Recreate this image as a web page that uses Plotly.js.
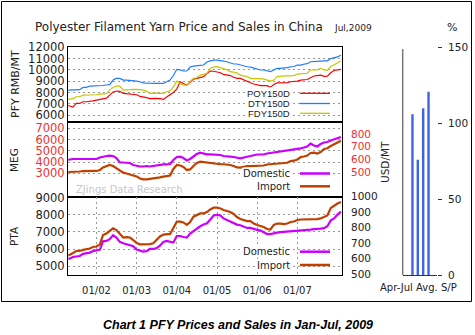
<!DOCTYPE html>
<html><head><meta charset="utf-8">
<script src="https://cdn.plot.ly/plotly-3.0.1.min.js"></script>
<style>html,body{margin:0;padding:0;background:#fff;} #chart{width:475px;height:335px;}</style>
</head><body><div id="chart"></div>
<script>
const dates = ["2001-04-20","2001-05-01","2001-06-01","2001-07-01","2001-08-01","2001-09-01","2001-10-01","2001-11-01","2001-12-01",
"2002-01-01","2002-02-01","2002-03-01","2002-04-01","2002-05-01","2002-06-01","2002-07-01","2002-08-01","2002-09-01","2002-10-01","2002-11-01","2002-12-01",
"2003-01-01","2003-02-01","2003-03-01","2003-04-01","2003-05-01","2003-06-01","2003-07-01","2003-08-01","2003-09-01","2003-10-01","2003-11-01","2003-12-01",
"2004-01-01","2004-02-01","2004-03-01","2004-04-01","2004-05-01","2004-06-01","2004-07-01","2004-08-01","2004-09-01","2004-10-01","2004-11-01","2004-12-01",
"2005-01-01","2005-02-01","2005-03-01","2005-04-01","2005-05-01","2005-06-01","2005-07-01","2005-08-01","2005-09-01","2005-10-01","2005-11-01","2005-12-01",
"2006-01-01","2006-02-01","2006-03-01","2006-04-01","2006-05-01","2006-06-01","2006-07-01","2006-08-01","2006-09-01","2006-10-01","2006-11-01","2006-12-01",
"2007-01-01","2007-02-01","2007-03-01","2007-04-01","2007-05-01","2007-06-01","2007-07-01","2007-08-01","2007-09-01","2007-10-01","2007-11-01","2007-12-01",
"2008-01-01","2008-02-01"];

// PFY prices, RMB/MT
const poy150d = [6880,6800,6700,7030,7030,7180,7180,7200,7250,
7330,7400,7480,7500,7770,8050,8130,8100,7920,7880,7830,7830,
7800,7650,7620,7550,7450,7480,7480,7450,7390,7600,7770,8000,
8300,8950,8800,8660,8900,9190,9250,9340,9400,9690,9900,9880,
9840,9750,9600,9540,9500,9350,9250,9250,9100,8950,8860,8750,
8650,8600,8600,8600,8450,8700,8850,8850,8880,8880,8950,8950,
9000,9100,9100,9150,9300,9460,9500,9540,9430,9450,9750,9950,
10000,10050];
const dty150d = [8210,8210,8210,8220,8250,8450,8450,8570,8570,
8570,8600,8620,8660,8700,9100,9250,9250,9100,9100,9080,9060,
9000,8950,8850,8830,8800,8800,8800,8800,8800,8950,9100,9500,
10050,10000,9900,9900,10250,10340,10340,10400,10430,10700,10800,10870,
10870,10850,10780,10720,10600,10520,10520,10430,10350,10280,10250,10150,
10050,9990,9990,9900,9840,10000,10140,10140,10140,10200,10280,10300,
10430,10430,10500,10550,10720,10720,10750,10780,10800,10800,11000,11050,
11150,11300];
const fdy150d = [7390,7390,7450,7620,7620,7770,7770,7770,7800,
7800,7850,7860,7900,8210,8450,8570,8570,8210,8210,8250,8280,
8280,8250,8210,8100,7920,7950,7950,7920,7920,8070,8150,8500,
9010,8800,8660,8660,9000,9250,9300,9540,9600,9700,10140,10250,
10280,10200,10140,10000,9840,9800,9750,9540,9460,9400,9250,9250,
9250,9200,9200,9100,9000,9100,9400,9450,9450,9450,9500,9500,
9630,9640,9680,9700,9990,9990,10000,10140,10000,9950,10300,10450,
10600,10780];

// MEG: domestic RMB/MT (left), import USD/MT (right)
const megDomestic = [4182,4227,4271,4271,4271,4271,4271,4271,4271,
4271,4404,4493,4538,4564,4538,4360,3960,3960,3960,3916,3738,
3649,3604,3604,3649,3604,3649,3738,3782,3800,3800,3827,4182,
4449,4476,4360,4138,4271,4493,4716,4831,4760,4689,4689,4689,
4689,4627,4538,4476,4476,4449,4404,4333,4404,4476,4582,4627,
4671,4671,4671,4760,4804,4831,4893,4920,4938,4982,5027,5071,
5160,5222,5293,5382,5649,5471,5382,5604,5738,5782,5916,6022,
6111,6227];
const megImport = [500,500,504,504,504,506,508,508,508,
508,516,536,543,555,547,528,512,495,488,480,476,
465,449,442,442,445,449,450,457,463,466,472,524,
555,551,540,516,520,547,571,581,577,573,573,571,
567,561,561,559,555,547,536,534,543,547,547,547,
547,547,551,559,561,563,567,571,573,573,586,589,
599,618,622,630,650,652,646,658,682,687,705,721,
733,747];

// PTA: domestic RMB/MT (left), import USD/MT (right)
const ptaDomestic = [5438,5438,5540,5569,5597,5723,5740,5797,5882,
5910,5967,6451,6479,6576,6804,6667,6422,6337,6292,6252,6166,
5967,5910,5853,5882,6007,6007,6053,6195,6422,6479,6451,6383,
6764,6764,6707,6667,6906,7048,7236,7333,7430,7504,7731,7959,
7999,7959,7788,7703,7617,7504,7430,7390,7304,7236,7236,7162,
7122,7077,6991,6878,6878,6935,6963,6991,7003,7020,7048,7048,
7077,7105,7105,7117,7134,7162,7162,7191,7219,7333,7674,7788,
8016,8186];
const ptaImport = [621,624,637,650,650,657,660,666,676,
679,693,753,763,779,796,785,760,737,740,737,721,
702,693,693,693,695,700,721,744,756,756,760,798,
839,839,834,818,837,871,882,892,893,901,918,929,
929,924,914,908,901,889,869,856,850,843,843,827,
818,811,805,792,789,818,827,827,824,827,837,840,
850,853,853,854,855,856,856,860,872,879,927,943,
956,966];

// Apr-Jul average sales/production ratio, %
const spMonths = ["Apr","May","Jun","Jul"];
const spRatio = [106,76,110,121];

const yearTicks = ["2002-01-01","2003-01-01","2004-01-01","2005-01-01","2006-01-01","2007-01-01"];
const yearLabels = ["01/02","01/03","01/04","01/05","01/06","01/07"];

const W = 475, H = 335;
const px = x => x / W, py = y => 1 - y / H;
const FONT = "DejaVu Sans, Verdana, sans-serif";
const xRange = ["2001-04-17", "2008-02-11"];
const xDom = [px(68), px(342)];
const d1 = [py(122.3), py(47.3)], d2 = [py(196.7), py(122.3)], d3 = [py(275), py(196.7)];
const grid = {showgrid: true, gridcolor: "#999", griddash: "2px,3px", gridwidth: 1};
const red = "#f03030", purple = "#cc00ff", brown = "#c04000";
const numFmt = {tickformat: "d", exponentformat: "none", separatethousands: false};

const traces = [
  {x: dates, y: poy150d, xaxis: "x", yaxis: "y", mode: "lines", line: {color: "#ff0000", width: 1.2}, name: "POY150D"},
  {x: dates, y: dty150d, xaxis: "x", yaxis: "y", mode: "lines", line: {color: "#1e7cff", width: 1.2}, name: "DTY150D"},
  {x: dates, y: fdy150d, xaxis: "x", yaxis: "y", mode: "lines", line: {color: "#c8c400", width: 1.2}, name: "FDY150D"},
  {x: dates, y: megImport, xaxis: "x2", yaxis: "y3", mode: "lines", line: {color: brown, width: 2.2}, name: "Import"},
  {x: dates, y: megDomestic, xaxis: "x2", yaxis: "y2", mode: "lines", line: {color: purple, width: 2.2}, name: "Domestic"},
  {x: dates, y: ptaImport, xaxis: "x3", yaxis: "y5", mode: "lines", line: {color: brown, width: 2.2}, name: "Import"},
  {x: dates, y: ptaDomestic, xaxis: "x3", yaxis: "y4", mode: "lines", line: {color: purple, width: 2.2}, name: "Domestic"},
  {x: spMonths, y: spRatio, xaxis: "x4", yaxis: "y6", type: "bar", width: 0.45, marker: {color: "#3c64e4"}, name: "S/P"}
];

const baseX = {type: "date", domain: xDom, range: xRange, showline: true, mirror: true, linecolor: "#000", linewidth: 1, ticks: "", showgrid: false, zeroline: false, fixedrange: true};
const baseY = {showline: true, mirror: true, linecolor: "#000", linewidth: 1, ticks: "", zeroline: false, ...numFmt, tickfont: {family: FONT, size: 11.5, color: "#222"}, ...grid};

const legLine = (y, color, w) => ({type: "line", xref: "paper", yref: "paper", x0: px(300), x1: px(330), y0: py(y), y1: py(y), line: {color: color, width: w}});
const legText = (y, text, size, fam) => ({xref: "paper", yref: "paper", x: px(291), y: py(y), xanchor: "right", yanchor: "middle", text: text, showarrow: false, bgcolor: "#fff", borderpad: 0, font: {family: fam, size: size, color: "#222"}});
const vText = (x, y, text, size) => ({xref: "paper", yref: "paper", x: px(x), y: py(y), xanchor: "center", yanchor: "middle", text: text, textangle: -90, showarrow: false, font: {family: FONT, size: size, color: "#222"}});

const layout = {
  width: W, height: H, autosize: false,
  margin: {l: 0, r: 0, t: 0, b: 0, pad: 0},
  paper_bgcolor: "#fff", plot_bgcolor: "#fff",
  showlegend: false,
  title: {text: "Polyester Filament Yarn Price and Sales in China", x: px(35), xanchor: "left", y: py(27), yanchor: "middle", xref: "paper", yref: "paper", font: {family: FONT, size: 12, color: "#222"}},
  xaxis: {...baseX, anchor: "y", showticklabels: false},
  xaxis2: {...baseX, anchor: "y2", showticklabels: false},
  xaxis3: {...baseX, anchor: "y4", showticklabels: true, tickvals: yearTicks, ticktext: yearLabels, ticklabelstandoff: 6, tickfont: {family: FONT, size: 10, color: "#222"}, ...grid},
  yaxis: {...baseY, domain: d1, anchor: "x", range: [5360, 12000], tickvals: [6000,7000,8000,9000,10000,11000,12000]},
  yaxis2: {...baseY, domain: d2, anchor: "x2", range: [920, 7533], tickvals: [3000,4000,5000,6000,7000], tickfont: {family: FONT, size: 11.5, color: red}},
  yaxis3: {overlaying: "y2", anchor: "x2", side: "right", range: [305, 892], tickvals: [500,600,700,800], ...numFmt, showgrid: false, showline: false, zeroline: false, ticks: "", ticklabelstandoff: 8, tickfont: {family: FONT, size: 10.5, color: red}},
  yaxis4: {...baseY, domain: d3, anchor: "x3", range: [4488, 9057], tickvals: [5000,6000,7000,8000,9000]},
  yaxis5: {overlaying: "y4", anchor: "x3", side: "right", range: [495.5, 1000], tickvals: [500,600,700,800,900,1000], ...numFmt, showgrid: false, showline: false, zeroline: false, ticks: "", ticklabelstandoff: 8, tickfont: {family: FONT, size: 10.5, color: "#222"}},
  xaxis4: {domain: [px(402.7), px(437)], anchor: "y6", type: "category", range: [-1.82, 4.58], showticklabels: false, showline: true, linecolor: "#333", linewidth: 1, ticks: "", showgrid: false, zeroline: false},
  yaxis6: {domain: [py(275), py(47.7)], anchor: "x4", side: "right", range: [0, 150], tickvals: [0,50,100,150], ticks: "outside", ticklen: 4, tickcolor: "#333", showline: false, showgrid: false, zeroline: false, ticklabelstandoff: 4, tickfont: {family: FONT, size: 10.5, color: "#222"}},
  shapes: [
    {type: "rect", xref: "paper", yref: "paper", x0: px(1.5), x1: px(471.5), y0: py(301.5), y1: py(1.5), line: {color: "#000", width: 1}},
    {type: "line", xref: "paper", yref: "paper", x0: px(402.7), x1: px(402.7), y0: py(275), y1: py(49), line: {color: "#777", width: 1.5}},
    legLine(93.3, "#ff0000", 1.3), legLine(103.5, "#1e7cff", 1.3), legLine(113.3, "#c8c400", 1.3),
    legLine(173.5, purple, 2.5), legLine(186.3, brown, 2.5),
    legLine(251.7, purple, 2.5), legLine(265, brown, 2.5)
  ],
  annotations: [
    {xref: "paper", yref: "paper", x: px(332), y: py(27.5), xanchor: "left", yanchor: "middle", text: "Jul,2009", showarrow: false, font: {family: FONT, size: 9, color: "#222"}},
    {xref: "paper", yref: "paper", x: px(452), y: py(27.5), xanchor: "center", yanchor: "middle", text: "%", showarrow: false, font: {family: FONT, size: 11, color: "#222"}},
    vText(16, 84, "PFY RMB/MT", 11),
    vText(14, 160, "MEG", 10.5),
    vText(14, 236, "PTA", 10.5),
    vText(385, 162, "USD/MT", 10.5),
    legText(93.3, "POY150D", 9.5, "Liberation Sans Narrow, Arial Narrow, sans-serif"),
    legText(103.5, "DTY150D", 9.5, "Liberation Sans Narrow, Arial Narrow, sans-serif"),
    legText(113.3, "FDY150D", 9.5, "Liberation Sans Narrow, Arial Narrow, sans-serif"),
    legText(173.5, "Domestic", 10, FONT),
    legText(186.3, "Import", 10, FONT),
    legText(251.7, "Domestic", 10, FONT),
    legText(265, "Import", 10, FONT),
    {xref: "paper", yref: "paper", x: px(74), y: py(189), xanchor: "left", yanchor: "middle", text: "ZJings Data Research", showarrow: false, font: {family: FONT, size: 10, color: "#c8c8c8"}},
    {xref: "paper", yref: "paper", x: px(418.3), y: py(287.5), xanchor: "center", yanchor: "middle", text: "Apr-Jul Avg. S/P", showarrow: false, font: {family: FONT, size: 10, color: "#222"}},
    {xref: "paper", yref: "paper", x: px(237.5), y: py(325), xanchor: "center", yanchor: "middle", text: "<b><i>Chart 1 PFY Prices and Sales in Jan-Jul, 2009</i></b>", showarrow: false, font: {family: "Liberation Sans, Arial, sans-serif", size: 12.5, color: "#000"}}
  ]
};

Plotly.newPlot("chart", traces, layout, {staticPlot: true, displayModeBar: false});
</script>
</body></html>
